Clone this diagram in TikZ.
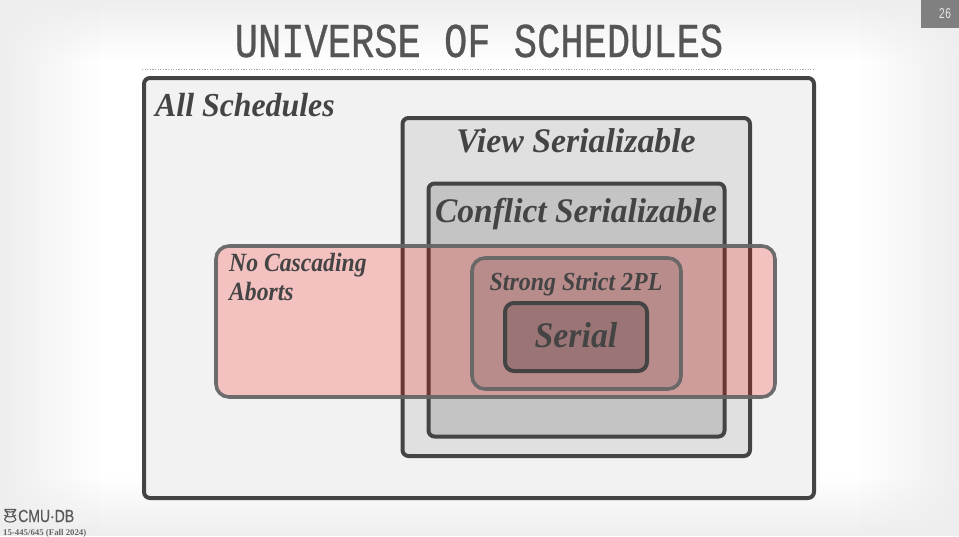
\documentclass[tikz,border=0pt]{standalone}
\usepackage{fontspec}
\setmainfont{Liberation Serif}
\newfontfamily\titlefont[FakeBold=0.7]{Liberation Mono}
\newfontfamily\pagefont{Liberation Mono}
\newfontfamily\logofont[FakeBold=0.4]{Liberation Sans}
\usetikzlibrary{fadings}
\definecolor{ink}{HTML}{444444}
\definecolor{titleink}{HTML}{555555}
\definecolor{softline}{HTML}{666666}
\definecolor{paper}{HTML}{F2F2F2}
\definecolor{edge}{HTML}{EEEEEE}
\tikzset{
  x=1pt,y=-1pt,
  setbox/.style={draw=ink,line width=4pt,rounded corners=6pt},
  softbox/.style={draw=softline,line width=3.6pt,rounded corners=13pt,opacity=.95},
  lab/.style={text=ink,font=\bfseries\itshape,inner sep=0pt},
}
\begin{document}
\begin{tikzpicture}
\useasboundingbox (0,0) rectangle (959,536);
\fill[white] (0,0) rectangle (959,536);
\fill[edge,path fading=south] (0,0) rectangle (959,60);
\fill[edge,path fading=north] (0,476) rectangle (959,536);
\fill[edge,path fading=east] (0,0) rectangle (100,536);
\fill[edge,path fading=west] (859,0) rectangle (959,536);
% page number
\fill[black!50] (921,0) rectangle (959,28);
\node[text=white!90!black,font=\pagefont,inner sep=0pt] (page) at (945,14) {\scalebox{.68}[1]{\fontsize{15}{15}\selectfont 26}};
% title
\node[text=titleink,inner sep=0pt] (title) at (479,41) {\scalebox{1.02}[1.28]{\fontsize{38}{38}\selectfont\titlefont UNIVERSE OF SCHEDULES}};
\draw[black!35,line width=1.2pt,dash pattern=on 1.2pt off 1.4pt] (142,69.5) -- (813,69.5);
% sets
\draw[setbox,fill=paper] (144,78) rectangle (814,498);
\draw[setbox,fill={rgb,255:red,224;green,224;blue,224}] (402.5,118) rectangle (750,456);
\draw[setbox,fill={rgb,255:red,196;green,196;blue,196}] (428.5,183.5) rectangle (724.5,436.5);
% pink band
\fill[red,opacity=.2,rounded corners=13pt] (216,246) rectangle (775,397);
\fill[black,opacity=.1,rounded corners=13pt] (472,258) rectangle (681,389);
\fill[black,opacity=.16,rounded corners=7pt] (505,303) rectangle (647,371);
\draw[softbox] (216,246) rectangle (775,397);
\draw[softbox] (472,258) rectangle (681,389);
\draw[setbox,rounded corners=9pt] (505,303) rectangle (647,371);
% labels
\node[lab,anchor=base west] (all) at (155,116) {\scalebox{.95}[1]{\fontsize{33.5}{33.5}\selectfont All Schedules}};
\node[lab,anchor=base] (view) at (576,152) {\scalebox{.98}[1]{\fontsize{34.5}{34.5}\selectfont View Serializable}};
\node[lab,anchor=base] (conf) at (576,222) {\scalebox{.97}[1]{\fontsize{34.5}{34.5}\selectfont Conflict Serializable}};
\node[lab,anchor=base west] (noc) at (229,271) {\scalebox{.9}[1]{\fontsize{26.3}{26.3}\selectfont No Cascading}};
\node[lab,anchor=base west] (abo) at (229,300) {\scalebox{.9}[1]{\fontsize{26.3}{26.3}\selectfont Aborts}};
\node[lab,anchor=base] (ssp) at (576,290) {\scalebox{.92}[1]{\fontsize{26}{26}\selectfont Strong Strict 2PL}};
\node[lab,anchor=base] (ser) at (576,347) {\scalebox{.94}[1]{\fontsize{36}{36}\selectfont Serial}};
% footer logo
\draw[black!65,line width=1.1pt] (4.5,509.5) -- (16,509.5) (4.5,509.5) .. controls (4.5,513) and (16,513) .. (16,509.5)
  (4.5,515) .. controls (6,517.5) and (14,517.5) .. (16,515) (4.5,519.5) .. controls (6,523) and (14,523) .. (16,519.5)
  (4.5,509.5) -- (8,514.5) -- (4.5,519.5) (16,509.5) -- (12.5,514.5) -- (16,519.5);
\node[anchor=base west,text=black!65,font=\logofont,inner sep=0pt] (cmu) at (18,522) {\scalebox{.8}[1]{\fontsize{17.5}{17.5}\selectfont CMU·DB}};
\node[anchor=base west,text=black!60,font=\bfseries,inner sep=0pt] (course) at (3,535) {\fontsize{8.8}{8.8}\selectfont 15-445/645 (Fall 2024)};
\end{tikzpicture}
\end{document}
